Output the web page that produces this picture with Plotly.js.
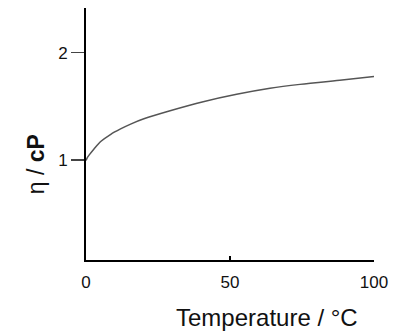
<!DOCTYPE html>
<html>
<head>
<meta charset="utf-8">
<script src="https://cdn.plot.ly/plotly-3.0.1.min.js"></script>
<style>html,body{margin:0;padding:0;background:#fff;}#chart{width:395px;height:336px;}</style>
</head>
<body>
<div id="chart"></div>
<script>
// Temperature (°C)
const temperature = [0, 0.5, 1.2, 2.78, 5.1, 8.6, 12.0, 15.5, 20.1, 29.2, 40.7, 52.3, 63.9, 74.3, 88.9, 100];
// Viscosity η (cP)
const viscosity = [0.995, 1.025, 1.05, 1.103, 1.172, 1.240, 1.290, 1.335, 1.384, 1.459, 1.543, 1.612, 1.668, 1.705, 1.746, 1.778];
const xTickVals = [0, 50, 100];
const xTickText = ["0", "50", "100"];
const yTickVals = [1, 2];
const yTickText = ["1", "2"];
const xTitle = "Temperature / °C";
const yTitle = "η / <b>cP</b>";

const FONT = "Arial, 'Liberation Sans', sans-serif";

const trace = {
  x: temperature, y: viscosity, type: "scatter", mode: "lines",
  line: {color: "#555555", width: 1.5, shape: "spline", smoothing: 0.8},
  hoverinfo: "skip"
};

const layout = {
  width: 395, height: 336,
  margin: {l: 86, r: 21, t: 8, b: 76},
  paper_bgcolor: "#ffffff", plot_bgcolor: "#ffffff",
  showlegend: false,
  font: {family: FONT, color: "#111111"},
  xaxis: {
    range: [0, 100], showgrid: false, zeroline: false,
    showline: true, linecolor: "#000000", linewidth: 2,
    tickmode: "array", tickvals: xTickVals, ticktext: xTickText,
    ticks: "inside", ticklen: 4, tickwidth: 2, tickcolor: "#000000",
    ticklabelstandoff: 6,
    tickfont: {family: FONT, size: 17, color: "#111111"}
  },
  yaxis: {
    range: [0.068, 2.417], showgrid: false, zeroline: false,
    showline: true, linecolor: "#000000", linewidth: 2,
    tickmode: "array", tickvals: yTickVals, ticktext: yTickText,
    ticks: "outside", ticklen: 13, tickwidth: 1.5, tickcolor: "#444444",
    tickfont: {family: FONT, size: 17, color: "#111111"}
  },
  annotations: [
    {text: xTitle, xref: "paper", yref: "paper", x: 0.63, y: 0, yshift: -57,
     xanchor: "center", yanchor: "middle", showarrow: false,
     font: {family: FONT, size: 24, color: "#111111"}},
    {text: yTitle, xref: "paper", yref: "paper", x: 0, xshift: -50, y: 0.38,
     xanchor: "center", yanchor: "middle", textangle: -90, showarrow: false,
     font: {family: FONT, size: 23, color: "#111111"}}
  ]
};

Plotly.newPlot("chart", [trace], layout, {displayModeBar: false, staticPlot: true});
</script>
</body>
</html>
